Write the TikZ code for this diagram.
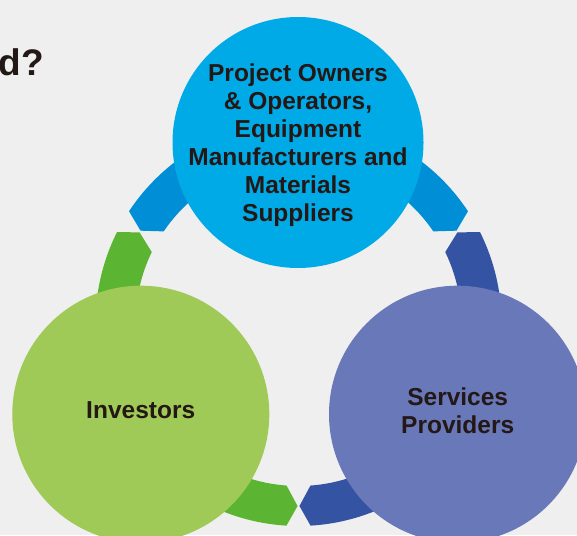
\documentclass[tikz,border=0pt]{standalone}
\usepackage{fontspec}
\setmainfont{Liberation Sans}
\definecolor{bg}{HTML}{EFEFEF}
\definecolor{topc}{HTML}{00AAE7}
\definecolor{topa}{HTML}{008FD6}
\definecolor{grc}{HTML}{A0CA58}
\definecolor{gra}{HTML}{5CB532}
\definecolor{puc}{HTML}{6878B8}
\definecolor{pua}{HTML}{3453A3}
\definecolor{ink}{HTML}{231815}
\begin{document}
\begin{tikzpicture}[x=1pt,y=1pt,
  lbl/.style={font=\bfseries\fontsize{24.5pt}{28pt}\selectfont, text=ink, align=center, inner sep=0pt},
  disc/.style={circle, inner sep=0pt, draw=none}]
\useasboundingbox (0,0) rectangle (577,-535);
\clip (0,0) rectangle (577,-535);
\fill[bg] (0,0) rectangle (577,-535);
% title fragment
\node[font=\bfseries\fontsize{37pt}{40pt}\selectfont, text=ink, anchor=base east, inner sep=0pt] (title) at (44,-75) {d?};
% ring segments
\begin{scope}[shift={(298.5,-323)}]
  \fill[topa] (30.3:183pt) -- (33.4:203pt) arc[start angle=33.4, end angle=146.6, radius=203pt]
     -- (149.7:183pt) -- (145.8:163pt) arc[start angle=145.8, end angle=34.2, radius=163pt] -- cycle;
  \fill[gra] (150.3:183pt) -- (153.4:203pt) arc[start angle=153.4, end angle=266.6, radius=203pt]
     -- (269.7:183pt) -- (265.8:163pt) arc[start angle=265.8, end angle=154.2, radius=163pt] -- cycle;
  \fill[pua] (270.3:183pt) -- (273.4:203pt) arc[start angle=273.4, end angle=386.6, radius=203pt]
     -- (389.7:183pt) -- (385.8:163pt) arc[start angle=385.8, end angle=274.2, radius=163pt] -- cycle;
\end{scope}
% circles
\node[disc, fill=topc, minimum size=251pt] (owners) at (298,-142.5) {};
\node[disc, fill=grc, minimum size=257pt] (investors) at (140.8,-414.2) {};
\node[disc, fill=puc, minimum size=257pt] (services) at (457.5,-414.2) {};
% labels
\node[lbl] (ownerslbl) at (298,-145.3) {Project Owners\\\& Operators,\\Equipment\\Manufacturers and\\Materials\\Suppliers};
\node[lbl] (investorslbl) at (140.7,-410.2) {Investors};
\node[lbl] (serviceslbl) at (457.7,-410.3) {Services\\Providers};
\end{tikzpicture}
\end{document}
